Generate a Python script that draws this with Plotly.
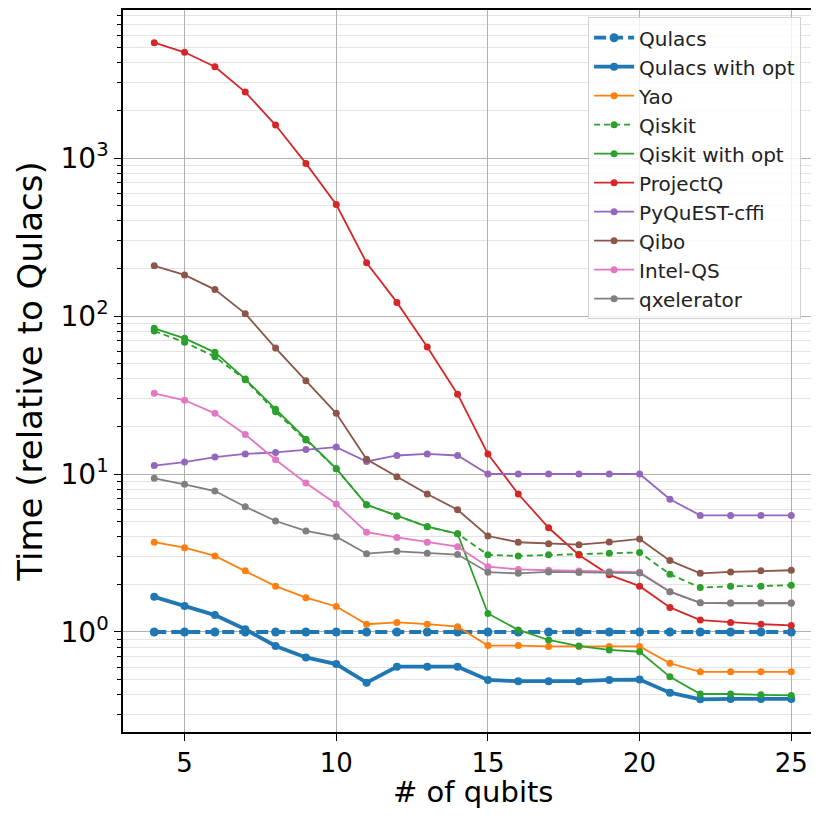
import plotly.graph_objects as go

qubits = list(range(4, 26))

qulacs = [1.0] * 22
qulacs_opt = [1.67, 1.46, 1.28, 1.04, 0.815, 0.69, 0.627, 0.478, 0.603, 0.603, 0.603,
              0.497, 0.488, 0.488, 0.488, 0.497, 0.50, 0.413, 0.375, 0.377, 0.377, 0.377]
yao = [3.70, 3.42, 3.03, 2.44, 1.95, 1.65, 1.45, 1.12, 1.15, 1.12, 1.08,
       0.82, 0.82, 0.81, 0.81, 0.81, 0.81, 0.634, 0.56, 0.56, 0.56, 0.56]
qiskit = [80.4, 68.2, 55.3, 39.5, 24.8, 16.4, 10.8, 6.39, 5.42, 4.64, 4.19,
          3.08, 3.03, 3.08, 3.10, 3.15, 3.19, 2.32, 1.91, 1.95, 1.95, 1.98]
qiskit_opt = [83.6, 72.2, 58.9, 39.9, 25.7, 16.6, 10.8, 6.39, 5.42, 4.64, 4.19,
              1.31, 1.03, 0.89, 0.815, 0.77, 0.75, 0.52, 0.405, 0.405, 0.40, 0.397]
projectq = [5370, 4670, 3780, 2617, 1617, 925, 508, 217, 122, 63.6, 32.0,
            13.4, 7.47, 4.57, 3.07, 2.30, 1.95, 1.43, 1.19, 1.15, 1.12, 1.10]
pyquest = [11.3, 11.9, 12.8, 13.4, 13.7, 14.3, 14.8, 12.0, 13.1, 13.4, 13.1,
           10.0, 10.0, 10.0, 10.0, 10.0, 10.0, 6.92, 5.47, 5.47, 5.47, 5.47]
qibo = [208, 182, 147, 103.5, 62.7, 38.9, 24.2, 12.4, 9.6, 7.47, 5.94,
        4.05, 3.70, 3.62, 3.57, 3.71, 3.88, 2.83, 2.35, 2.40, 2.44, 2.46]
intelqs = [32.4, 29.3, 24.2, 17.8, 12.3, 8.77, 6.46, 4.28, 3.97, 3.70, 3.47,
           2.59, 2.49, 2.46, 2.43, 2.41, 2.39, 1.80, 1.53, 1.53, 1.53, 1.53]
qxelerator = [9.39, 8.61, 7.80, 6.21, 5.04, 4.36, 4.01, 3.13, 3.24, 3.15, 3.09,
              2.39, 2.35, 2.40, 2.38, 2.38, 2.36, 1.80, 1.53, 1.52, 1.52, 1.52]

series = [
    ("Qulacs", qulacs, "#1f77b4", 3.8, "12px,5px", 9),
    ("Qulacs with opt", qulacs_opt, "#1f77b4", 3.8, "solid", 8),
    ("Yao", yao, "#ff7f0e", 1.8, "solid", 7),
    ("Qiskit", qiskit, "#2ca02c", 1.8, "6px,4px", 7),
    ("Qiskit with opt", qiskit_opt, "#2ca02c", 1.8, "solid", 7),
    ("ProjectQ", projectq, "#d62728", 1.8, "solid", 7),
    ("PyQuEST-cffi", pyquest, "#9467bd", 1.8, "solid", 7),
    ("Qibo", qibo, "#8c564b", 1.8, "solid", 7),
    ("Intel-QS", intelqs, "#e377c2", 1.8, "solid", 7),
    ("qxelerator", qxelerator, "#7f7f7f", 1.8, "solid", 7),
]

ytickvals = [1, 10, 100, 1000]
yticktext = ["10<sup>0</sup>", "10<sup>1</sup>", "10<sup>2</sup>", "10<sup>3</sup>"]
xtickvals = [5, 10, 15, 20, 25]
xtitle = "# of qubits"
ytitle = "Time (relative to Qulacs)"

fig = go.Figure()
for name, vals, color, lw, dash, ms in series:
    fig.add_trace(go.Scatter(
        x=qubits, y=vals, name=name, mode="lines+markers",
        line=dict(color=color, width=lw, dash=dash),
        marker=dict(color=color, size=ms, symbol="circle"),
    ))

font = "DejaVu Sans"
fig.update_layout(
    width=803, height=802,
    margin=dict(l=115, r=0, t=2, b=78),
    paper_bgcolor="white", plot_bgcolor="white",
    font=dict(family=font, color="black"),
    showlegend=True,
    legend=dict(
        x=0.676, y=0.99, xanchor="left", yanchor="top",
        font=dict(family=font, size=20, color="#222222"),
        bgcolor="rgba(255,255,255,0.8)", bordercolor="#d0d0d0", borderwidth=1,
        itemwidth=40, tracegroupgap=0,
    ),
    xaxis=dict(
        range=[2.97, 25.65], tickvals=xtickvals, automargin=False,
        tickfont=dict(size=26, family=font), ticks="outside", ticklen=7,
        tickwidth=1.2, tickcolor="black",
        showline=True, linecolor="black", linewidth=1.5, mirror=True,
        showgrid=True, gridcolor="#b0b0b0", gridwidth=1, zeroline=False,
    ),
    yaxis=dict(
        type="log", range=[-0.633, 3.937], automargin=False,
        tickvals=ytickvals, ticktext=yticktext,
        tickfont=dict(size=28, family=font), ticks="outside", ticklen=7,
        tickwidth=1.2, tickcolor="black",
        showline=True, linecolor="black", linewidth=1.5,
        showgrid=True, gridcolor="#b0b0b0", gridwidth=1, zeroline=False,
        minor=dict(dtick="D1", showgrid=True, gridcolor="#e4e4e4", gridwidth=1,
                   ticks="outside", ticklen=4, tickcolor="black"),
        title=dict(text=ytitle, font=dict(size=34, family=font), standoff=8),
    ),
    annotations=[dict(
        text=xtitle, xref="x", yref="paper", x=14.5, y=0,
        xanchor="center", yanchor="top", yshift=-41, showarrow=False,
        font=dict(size=29, family=font, color="black"),
    )],
)

fig.write_html("out.html")
